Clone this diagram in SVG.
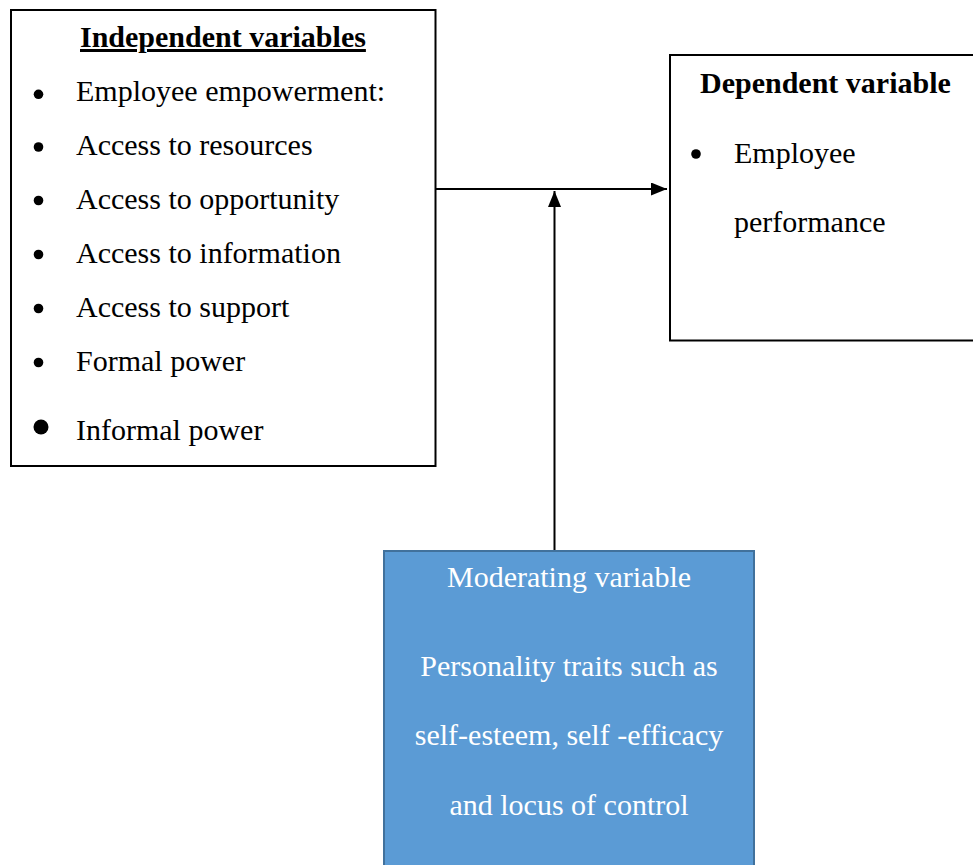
<svg xmlns="http://www.w3.org/2000/svg" width="973" height="865" viewBox="0 0 973 865">
<style>
.box{fill:#fff;stroke:#000;stroke-width:2}
.mod{fill:#5B9BD5;stroke:#41719C;stroke-width:2}
text{font-family:'Liberation Serif','Times New Roman',Times,serif;font-size:30px;fill:#000}
.b{font-weight:bold}
.w{fill:#fff}
.conn{stroke:#000;stroke-width:2;fill:none}
</style>
<defs>
<marker id="ah" markerWidth="8" markerHeight="6.5" refX="8" refY="3.25" orient="auto" markerUnits="strokeWidth">
<path d="M0,0 L8,3.25 L0,6.5 Z" fill="#000"/>
</marker>
</defs>
<g id="independent">
<rect class="box" x="11" y="10" width="424.5" height="456"/>
<text class="b" x="80" y="47" text-decoration="underline">Independent variables</text>
<g fill="#000">
<circle cx="38.5" cy="94.3" r="4.8"/>
<circle cx="38.5" cy="147" r="4.8"/>
<circle cx="38.5" cy="200.5" r="4.8"/>
<circle cx="38.5" cy="254.5" r="4.8"/>
<circle cx="38.5" cy="308.5" r="4.8"/>
<circle cx="38.5" cy="362.5" r="4.8"/>
<circle cx="41" cy="427" r="7.5"/>
</g>
<text x="76" y="101">Employee empowerment:</text>
<text x="76" y="155">Access to resources</text>
<text x="76" y="209">Access to opportunity</text>
<text x="76" y="263">Access to information</text>
<text x="76" y="317">Access to support</text>
<text x="76" y="371">Formal power</text>
<text x="76" y="440">Informal power</text>
</g>
<g id="dependent">
<rect class="box" x="670" y="55" width="310" height="285.5"/>
<text class="b" x="700" y="93">Dependent variable</text>
<circle cx="696" cy="154" r="4.8" fill="#000"/>
<text x="734" y="163">Employee</text>
<text x="734" y="232">performance</text>
</g>
<g id="moderating">
<rect class="mod" x="384" y="551" width="370" height="330"/>
<text class="w" x="569" y="587" text-anchor="middle">Moderating variable</text>
<text class="w" x="569" y="676" text-anchor="middle">Personality traits such as</text>
<text class="w" x="569" y="745" text-anchor="middle">self-esteem, self -efficacy</text>
<text class="w" x="569" y="815" text-anchor="middle">and locus of control</text>
</g>
<g id="connectors">
<line class="conn" x1="435" y1="189" x2="667" y2="189" marker-end="url(#ah)"/>
<line class="conn" x1="554.5" y1="550" x2="554.5" y2="191" marker-end="url(#ah)"/>
</g>
</svg>
